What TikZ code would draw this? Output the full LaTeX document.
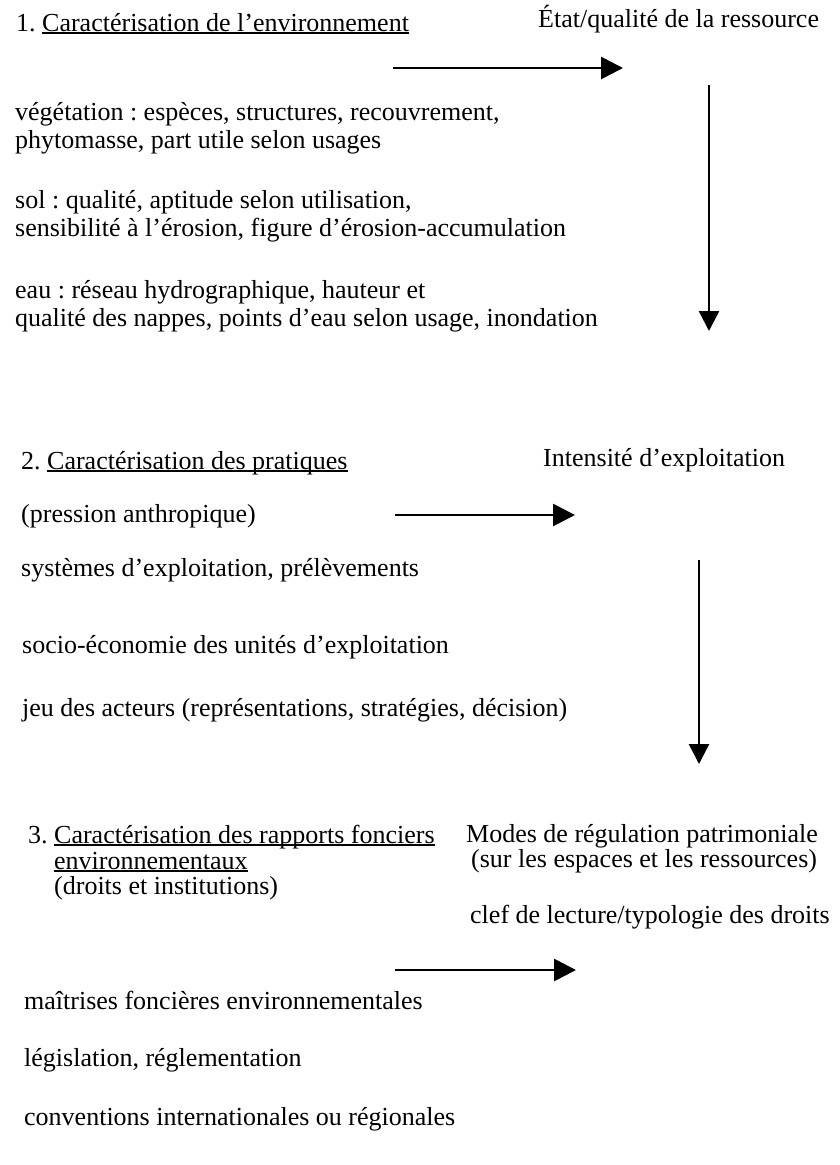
\documentclass[tikz,border=0pt]{standalone}
\usepackage{fontspec}
\setmainfont{Liberation Serif}
\frenchspacing
\usepackage{tikz}
\usetikzlibrary{arrows.meta}
\newsavebox{\boitesoul}
\newcommand{\souligne}[1]{\sbox{\boitesoul}{#1}\rlap{\rule[-2.5pt]{\wd\boitesoul}{1.3pt}}\usebox{\boitesoul}}
\newcommand{\titre}[2]{#1 \souligne{#2}}

\begin{document}
\begin{tikzpicture}[x=1pt,y=-1pt,
	txt/.style={anchor=base west,inner sep=0pt,align=left,font=\fontsize{26}{28}\selectfont},
	fleche/.style={line width=2.8pt,-{Triangle[length=22pt,width=22pt]}},
	flechev/.style={line width=2.4pt,-{Triangle[length=20pt,width=20pt]}}]
	\useasboundingbox (0,0) rectangle (840,1165);
	
	\node[txt] (titre1) at (16,31) {\titre{1.}{Caractérisation de l’environnement}};
	\node[txt] (etat) at (538,27) {État/qualité de la ressource};
	\node[txt] (vegetation) at (15,148) {végétation : espèces, structures, recouvrement,\\phytomasse, part utile selon usages};
	\node[txt] (sol) at (15,236) {sol : qualité, aptitude selon utilisation,\\sensibilité à l’érosion, figure d’érosion-accumulation};
	\node[txt] (eau) at (15,326) {eau : réseau hydrographique, hauteur et\\qualité des nappes, points d’eau selon usage, inondation};
	\coordinate (h1a) at (393,68);
	\coordinate (h1b) at (623,68);
	\coordinate (v1a) at (709,85);
	\coordinate (v1b) at (709,331);
	\draw[fleche] (h1a) -- (h1b);
	\draw[flechev] (v1a) -- (v1b);
	
	\node[txt] (titre2) at (21,469) {\titre{2.}{Caractérisation des pratiques}};
	\node[txt] (intensite) at (543,466) {Intensité d’exploitation};
	\node[txt] (pression) at (21,522) {(pression anthropique)};
	\node[txt] (systemes) at (21,576) {systèmes d’exploitation, prélèvements};
	\node[txt] (socio) at (22,653) {socio-économie des unités d’exploitation};
	\node[txt] (jeu) at (22,716) {jeu des acteurs (représentations, stratégies, décision)};
	\coordinate (h2a) at (395,515);
	\coordinate (h2b) at (575,515);
	\coordinate (v2a) at (699,560);
	\coordinate (v2b) at (699,764);
	\draw[fleche] (h2a) -- (h2b);
	\draw[flechev] (v2a) -- (v2b);
	
	\node[txt] (titre3) at (28,894) {\titre{3.}{Caractérisation des rapports fonciers}\\[-2pt]
		\phantom{3. }\souligne{environnementaux}\\[-3pt]
		\phantom{3. }(droits et institutions)};
	\node[txt] (modes) at (466,867) {Modes de régulation patrimoniale\\[-3pt]
		\hspace*{5pt}(sur les espaces et les ressources)};
	\node[txt] (clef) at (470,923) {clef de lecture/typologie des droits};
	\node[txt] (maitrises) at (24,1009) {maîtrises foncières environnementales};
	\node[txt] (legislation) at (24,1066) {législation, réglementation};
	\node[txt] (conventions) at (24,1125) {conventions internationales ou régionales};
	\coordinate (h3a) at (395,970);
	\coordinate (h3b) at (576,970);
	\draw[fleche] (h3a) -- (h3b);
\end{tikzpicture}
\end{document}
